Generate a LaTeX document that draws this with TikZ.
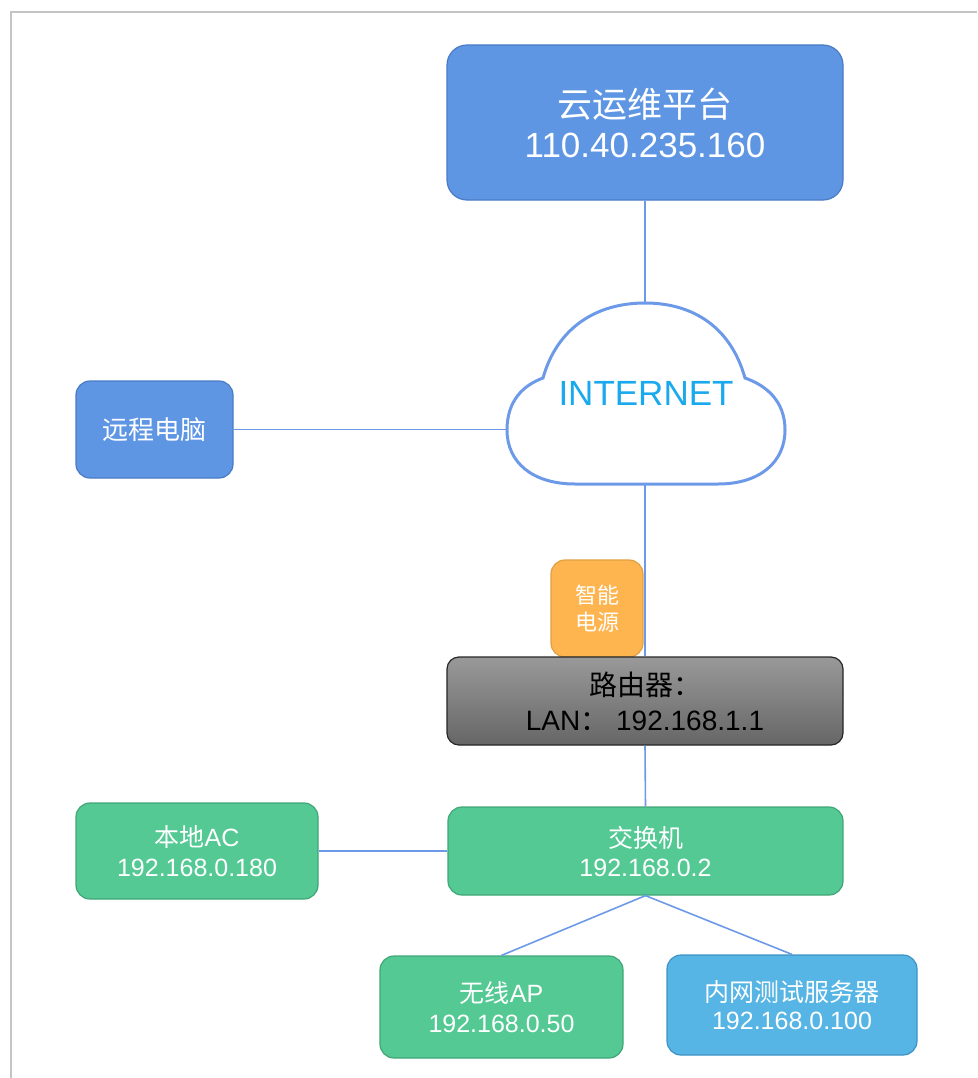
\documentclass[tikz,border=0pt]{standalone}
\usepackage{fontspec}
\setmainfont{Liberation Sans}
\newfontfamily\cjk{Noto Sans CJK SC}
\definecolor{linec}{HTML}{6D9AE8}
\definecolor{bluef}{HTML}{5E96E3}
\definecolor{blued}{HTML}{4B7BC4}
\definecolor{nettext}{HTML}{19A9EC}
\definecolor{orangef}{HTML}{FFB54F}
\definecolor{oranged}{HTML}{E0A040}
\definecolor{greenf}{HTML}{54C994}
\definecolor{greend}{HTML}{41A677}
\definecolor{skyf}{HTML}{56B5E4}
\definecolor{skyd}{HTML}{3E93C4}
\definecolor{framec}{HTML}{C4C4C4}
\begin{document}
\begin{tikzpicture}[x=1pt,y=-1pt,
  box/.style={draw, line width=1.2pt, align=center, inner sep=0pt, text=white, rounded corners=14pt},
  link/.style={draw=linec, line width=1.6pt}]
\useasboundingbox (0,0) rectangle (977,1078);
% frame
\draw[framec, line width=2pt] (977,12.5) -- (10.5,12.5) -- (10.5,1078);
% top box
\node[box, fill=bluef, draw=blued, rounded corners=20pt, minimum width=396pt, minimum height=155pt,
  font=\fontsize{35}{40}\selectfont] (cloudops) at (645,122.5) {{\cjk 云运维平台}\\110.40.235.160};
% remote pc
\node[box, fill=bluef, draw=blued, minimum width=157pt, minimum height=97pt,
  font=\fontsize{26}{30}\selectfont] (pc) at (154.5,429.5) {\cjk 远程电脑};
% cloud
\draw[linec, line width=3pt] (575,484) -- (718,484)
  .. controls (760,484) and (785,462) .. (785,430)
  .. controls (785,400) and (765,385) .. (745,378)
  .. controls (731,328) and (694,303) .. (645,303)
  .. controls (596,303) and (557,328) .. (543,378)
  .. controls (524,385) and (507,400) .. (507,430)
  .. controls (507,462) and (532,484) .. (575,484) -- cycle;
\coordinate (cloudtop) at (645,303);
\coordinate (cloudleft) at (507.5,429.5);
\coordinate (cloudbot) at (645,484);
\node[text=nettext, font=\fontsize{35}{40}\selectfont, inner sep=0pt] (internet) at (646,393) {INTERNET};
% smart power
\node[box, fill=orangef, draw=oranged, minimum width=92pt, minimum height=97pt,
  font=\fontsize{22}{27}\selectfont] (power) at (597,608.5) {\cjk 智能\\\cjk 电源};
% router
\node[box, draw=black!85, top color=black!40, bottom color=black!60, text=black,
  rounded corners=12pt, minimum width=396pt, minimum height=88pt,
  font=\fontsize{28}{35}\selectfont] (router) at (645,701) {{\cjk 路由器：}\\LAN{\cjk ：} 192.168.1.1};
% switch
\node[box, fill=greenf, draw=greend, minimum width=395pt, minimum height=88pt,
  font=\fontsize{25}{29}\selectfont] (switch) at (645.5,851) {{\cjk 交换机}\\192.168.0.2};
% local AC
\node[box, fill=greenf, draw=greend, minimum width=242pt, minimum height=96pt,
  font=\fontsize{25}{30}\selectfont] (ac) at (197,851) {{\cjk 本地}AC\\192.168.0.180};
% wireless AP
\node[box, fill=greenf, draw=greend, minimum width=243pt, minimum height=102pt,
  font=\fontsize{25}{30}\selectfont] (ap) at (501.5,1007) {{\cjk 无线}AP\\192.168.0.50};
% test server
\node[box, fill=skyf, draw=skyd, minimum width=250pt, minimum height=100pt,
  font=\fontsize{25}{28}\selectfont] (server) at (792,1005) {{\cjk 内网测试服务器}\\192.168.0.100};
% links
\draw[link] (cloudops.south) -- (cloudtop);
\draw[link] (pc.east) -- (cloudleft);
\draw[link] (cloudbot) -- (router.north);
\draw[link] (router.south) -- (switch.north);
\draw[link] (ac.east) -- (switch.west);
\draw[link] (switch.south) -- (ap.north);
\draw[link] (switch.south) -- (server.north);
\end{tikzpicture}
\end{document}
